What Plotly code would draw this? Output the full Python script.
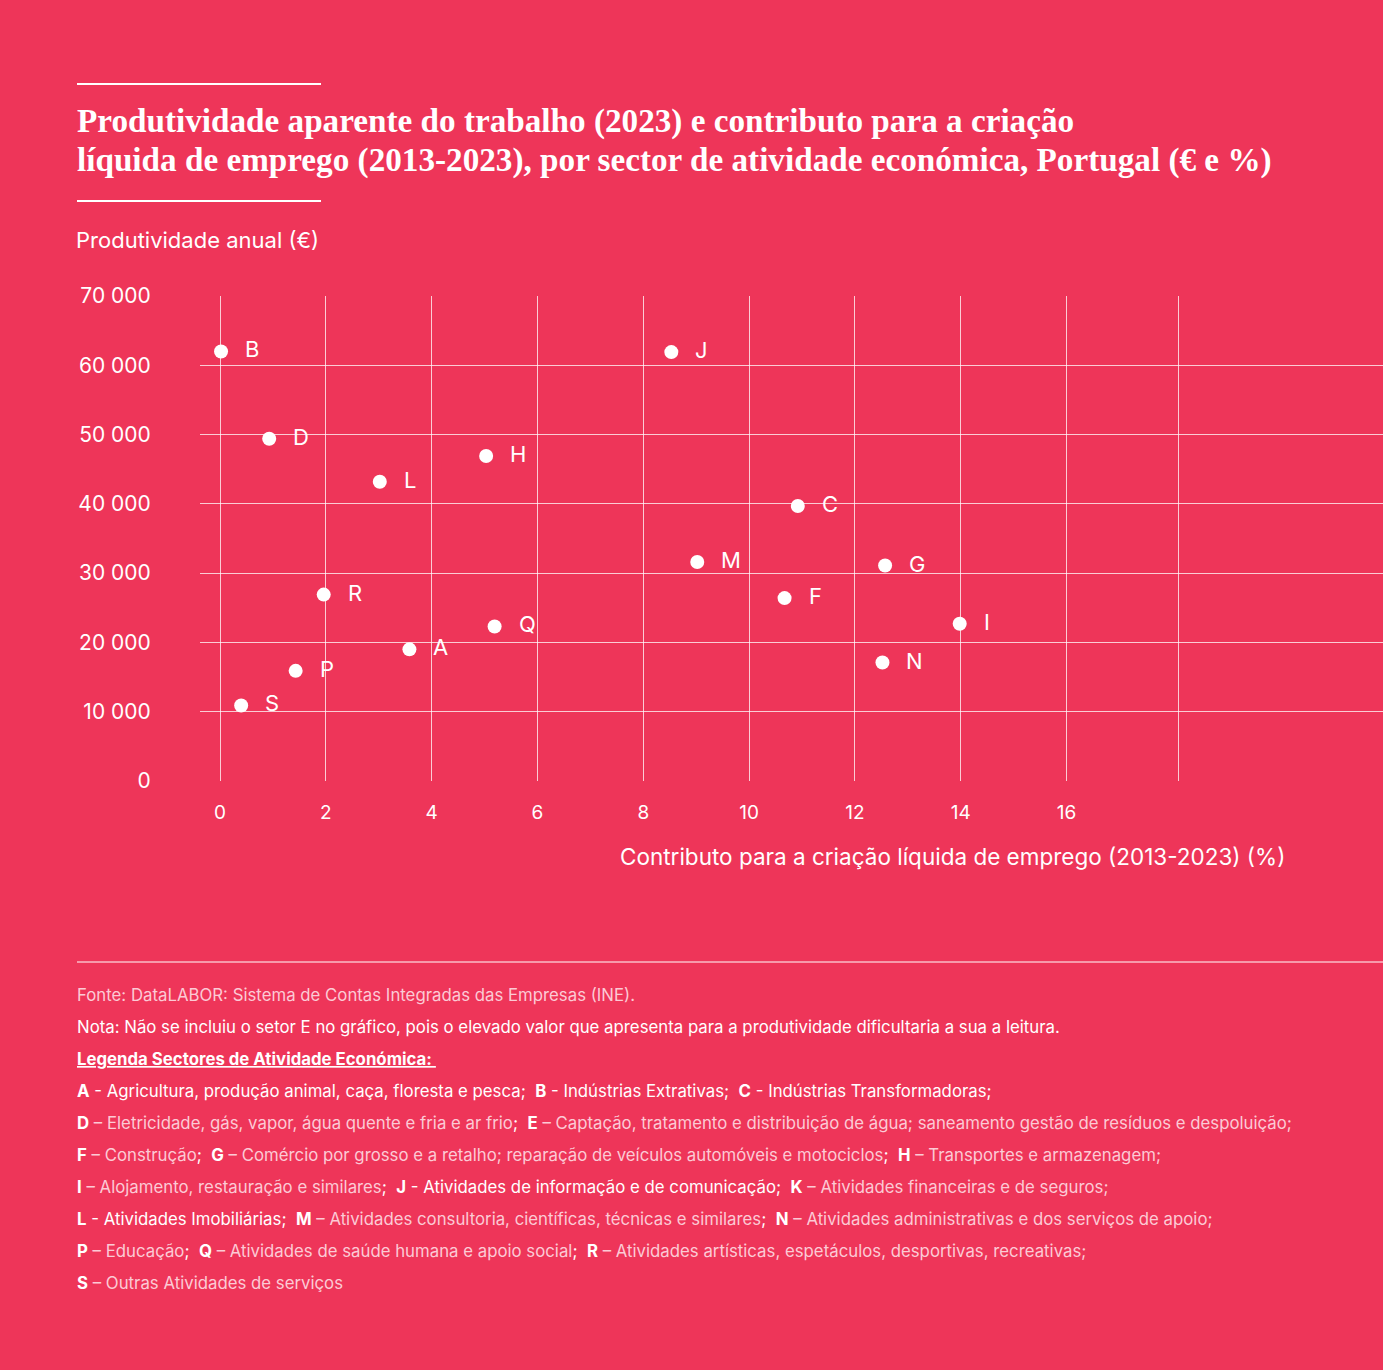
import plotly.graph_objects as go

# Dados
setores = ["B", "D", "L", "H", "J", "C", "M", "G", "F", "I", "N", "R", "Q", "A", "P", "S"]
contributo = [0.02, 0.93, 3.02, 5.03, 8.53, 10.92, 9.02, 12.57, 10.67, 13.98, 12.52, 1.96, 5.19, 3.58, 1.43, 0.40]
produtividade = [62000, 49400, 43200, 46900, 61900, 39700, 31600, 31100, 26400, 22700, 17100, 26900, 22300, 19000, 15900, 10900]

y_ticks = [0, 10000, 20000, 30000, 40000, 50000, 60000, 70000]
y_ticktext = ["0", "10 000", "20 000", "30 000", "40 000", "50 000", "60 000", "70 000"]
x_ticks = [0, 2, 4, 6, 8, 10, 12, 14, 16, 18.12]
x_ticktext = ["0", "2", "4", "6", "8", "10", "12", "14", "16", ""]

# legenda: (código, separador, descrição, destaque)
legenda = [
    [("A", "-", "Agricultura, produção animal, caça, floresta e pesca", True),
     ("B", "-", "Indústrias Extrativas", True),
     ("C", "-", "Indústrias Transformadoras", True)],
    [("D", "–", "Eletricidade, gás, vapor, água quente e fria e ar frio", False),
     ("E", "–", "Captação, tratamento e distribuição de água; saneamento gestão de resíduos e despoluição", False)],
    [("F", "–", "Construção", False),
     ("G", "–", "Comércio por grosso e a retalho; reparação de veículos automóveis e motociclos", False),
     ("H", "–", "Transportes e armazenagem", False)],
    [("I", "–", "Alojamento, restauração e similares", False),
     ("J", "-", "Atividades de informação e de comunicação", True),
     ("K", "–", "Atividades financeiras e de seguros", False)],
    [("L", "-", "Atividades Imobiliárias", True),
     ("M", "–", "Atividades consultoria, científicas, técnicas e similares", False),
     ("N", "–", "Atividades administrativas e dos serviços de apoio", False)],
    [("P", "–", "Educação", False),
     ("Q", "–", "Atividades de saúde humana e apoio social", False),
     ("R", "–", "Atividades artísticas, espetáculos, desportivas, recreativas", False)],
    [("S", "–", "Outras Atividades de serviços", False)],
]

BG = "#EE3559"
LIGHT = "#FCCAD5"
FONT = "Inter"

# área do gráfico em píxeis: x 200..1383, y 296..781
def px(x):
    return (x - 200) / 1183

def py(y):
    return (781 - y) / 485

fig = go.Figure()
fig.add_trace(go.Scatter(
    x=contributo, y=produtividade, mode="markers",
    marker=dict(color="white", size=14, line=dict(width=0)),
    hoverinfo="skip", showlegend=False,
))

ann = []
for s, cx, cy in zip(setores, contributo, produtividade):
    ann.append(dict(x=cx, y=cy, xref="x", yref="y", text=s, showarrow=False,
                    xanchor="left", yanchor="middle", xshift=22, yshift=2,
                    font=dict(family=FONT, size=22, color="white")))

# título
titulo = ["Produtividade aparente do trabalho (2023) e contributo para a criação",
          "líquida de emprego (2013-2023), por sector de atividade económica, Portugal (€ e %)"]
for i, t in enumerate(titulo):
    ann.append(dict(x=px(75), y=py(121 + 39 * i), xref="paper", yref="paper", text="<b>" + t + "</b>",
                    showarrow=False, xanchor="left", yanchor="middle",
                    font=dict(family="Liberation Serif", size=33.2, color="white")))

ann.append(dict(x=px(74), y=py(240), xref="paper", yref="paper", text="Produtividade anual (€)",
                showarrow=False, xanchor="left", yanchor="middle",
                font=dict(family=FONT, size=22, color="white")))
ann.append(dict(x=px(1287), y=py(856), xref="paper", yref="paper",
                text="Contributo para a criação líquida de emprego (2013-2023) (%)",
                showarrow=False, xanchor="right", yanchor="middle",
                font=dict(family=FONT, size=22.5, color="white")))

# rodapé
nb = "&nbsp;"
linhas = [
    "<span style='color:%s'>Fonte: DataLABOR: Sistema de Contas Integradas das Empresas (INE).</span>" % LIGHT,
    "Nota: Não se incluiu o setor E no gráfico, pois o elevado valor que apresenta para a produtividade dificultaria a sua a leitura.",
    "<b><u>Legenda Sectores de Atividade Económica: </u></b>",
]
for row in legenda:
    partes = []
    for cod, sep, desc, dest in row:
        cor = "white" if dest else LIGHT
        partes.append("<b>%s</b><span style='color:%s'> %s %s</span>" % (cod, cor, sep, desc))
    txt = (";" + nb + nb).join(partes)
    if row[-1][0] != "S":
        txt += "<span style='color:%s'>;</span>" % (("white" if row[-1][3] else LIGHT))
    linhas.append(txt)

for i, t in enumerate(linhas):
    ann.append(dict(x=px(75), y=py(995 + 32 * i), xref="paper", yref="paper", text=t,
                    showarrow=False, xanchor="left", yanchor="middle",
                    font=dict(family=FONT, size=16.8, color="white")))

shapes = [
    dict(type="line", xref="paper", yref="paper", x0=px(77), x1=px(321), y0=py(84), y1=py(84),
         line=dict(color="white", width=2)),
    dict(type="line", xref="paper", yref="paper", x0=px(77), x1=px(321), y0=py(201), y1=py(201),
         line=dict(color="white", width=2)),
    dict(type="line", xref="paper", yref="paper", x0=px(77), x1=px(1383), y0=py(962), y1=py(962),
         line=dict(color="white", width=1)),
]

fig.update_layout(
    width=1383, height=1370,
    paper_bgcolor=BG, plot_bgcolor=BG,
    margin=dict(l=200, r=0, t=296, b=589),
    annotations=ann, shapes=shapes,
    font=dict(family=FONT, color="white"),
    showlegend=False,
)
fig.update_xaxes(
    range=[-0.378, 21.98], tickvals=x_ticks, ticktext=x_ticktext,
    showgrid=True, gridcolor="rgba(255,255,255,0.75)", gridwidth=1,
    zeroline=False, showline=False, ticks="outside", ticklen=14, tickcolor="rgba(0,0,0,0)",
    tickfont=dict(family=FONT, size=19, color="white"), fixedrange=True,
)
fig.update_yaxes(
    range=[0, 70000], tickvals=y_ticks, ticktext=y_ticktext,
    showgrid=True, gridcolor="rgba(255,255,255,0.75)", gridwidth=1,
    zeroline=False, showline=False, ticks="outside", ticklen=44, tickcolor="rgba(0,0,0,0)",
    tickfont=dict(family=FONT, size=21, color="white"), fixedrange=True,
)

fig.write_html("out.html", config={"displayModeBar": False},
               post_script="document.body.style.margin='0';document.body.style.overflow='hidden';")
